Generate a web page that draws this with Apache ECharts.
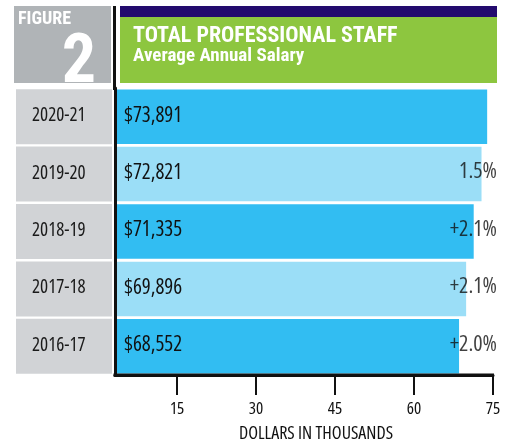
<!DOCTYPE html>
<html>
<head>
<meta charset="utf-8">
<script src="https://cdn.jsdelivr.net/npm/echarts@6/dist/echarts.min.js"></script>
<style>
  html, body { margin: 0; padding: 0; background: #fff; }
  #chart { width: 512px; height: 447px; }
</style>
</head>
<body>
<div id="chart"></div>
<script>
const years = ['2020-21', '2019-20', '2018-19', '2017-18', '2016-17'];
const salaries = [73.891, 72.821, 71.335, 69.896, 68.552];
const salaryLabels = ['$73,891', '$72,821', '$71,335', '$69,896', '$68,552'];
const changeLabels = ['', '1.5%', '+2.1%', '+2.1%', '+2.0%'];
const ticks = [15, 30, 45, 60, 75];
const xMin = 3.2;
const xMax = 75;

// Open Sans condensed is close to the narrow face of the original
const narrow = "'Open Sans'";
const cond = '500 condensed';
const head = "'Roboto Condensed'";
const barColors = ['#32bdf2', '#9bdef7'];

const chart = echarts.init(document.getElementById('chart'));

const headerGraphics = [
  { type: 'rect', shape: { x: 14, y: 6, width: 97, height: 77 }, style: { fill: '#b0b4b7' } },
  { type: 'text', x: 18, y: 19, style: { text: 'FIGURE', fill: '#fff', font: 'bold 18px ' + head, verticalAlign: 'middle' } },
  { type: 'text', x: 96, y: 65, style: { text: '2', fill: '#fff', font: 'bold 68px ' + head, align: 'right', verticalAlign: 'middle' } },
  { type: 'line', shape: { x1: 114.5, y1: 6, x2: 114.5, y2: 90 }, style: { stroke: '#111', lineWidth: 3 } },
  { type: 'rect', shape: { x: 120, y: 6, width: 377, height: 11 }, style: { fill: '#230b6e' } },
  { type: 'rect', shape: { x: 120, y: 17, width: 377, height: 66 }, style: { fill: '#8dc63f' } },
  { type: 'text', x: 133, y: 36, style: { text: 'TOTAL PROFESSIONAL STAFF', fill: '#fff', font: 'bold 22px ' + head, verticalAlign: 'middle' } },
  { type: 'text', x: 133, y: 56, style: { text: 'Average Annual Salary', fill: '#fff', font: 'bold 19px ' + head, verticalAlign: 'middle' } }
];

chart.setOption({
  animation: false,
  grid: { left: 115, right: 19, top: 88, bottom: 72, outerBoundsMode: 'none' },
  xAxis: {
    type: 'value',
    min: xMin,
    max: xMax,
    z: 3,
    name: 'DOLLARS IN THOUSANDS',
    nameLocation: 'middle',
    nameGap: 50,
    nameTextStyle: { fontFamily: narrow, fontWeight: cond, fontSize: 18, color: '#111', padding: [0, 0, 0, 24] },
    axisLine: { show: true, onZero: false, lineStyle: { color: '#111', width: 3, opacity: 1 } },
    axisTick: { show: true, customValues: ticks, length: 20, lineStyle: { color: '#111', width: 2 } },
    axisLabel: { customValues: ticks, margin: 26, fontFamily: narrow, fontWeight: cond, fontSize: 17, color: '#111' },
    splitLine: { show: false }
  },
  yAxis: {
    type: 'category',
    inverse: true,
    data: years,
    z: 3,
    axisLine: { show: true, onZero: false, lineStyle: { color: '#111', width: 3 } },
    axisTick: { show: false },
    axisLabel: {
      interval: 0,
      margin: 3,
      formatter: v => '{b|' + v + '}',
      rich: {
        b: {
          width: 80, height: 53, padding: [0, 0, 2, 16], align: 'left',
          backgroundColor: '#d1d3d6', fontFamily: narrow, fontWeight: cond, fontSize: 19, color: '#1a1a1a'
        }
      }
    }
  },
  series: [
    {
      type: 'bar',
      barCategoryGap: '5%',
      data: salaries.map((v, i) => ({ value: v, itemStyle: { color: barColors[i % 2] } })),
      label: {
        show: true,
        position: 'insideLeft',
        distance: 9,
        offset: [0, -1],
        formatter: p => salaryLabels[p.dataIndex],
        fontFamily: narrow, fontWeight: cond, fontSize: 21, color: '#111'
      }
    },
    {
      type: 'scatter',
      symbolSize: 0,
      data: years.map(y => [xMax, y]),
      label: {
        show: true,
        position: [4, -2],
        align: 'right',
        verticalAlign: 'middle',
        formatter: p => changeLabels[p.dataIndex],
        fontFamily: narrow, fontWeight: cond, fontSize: 22, color: '#111'
      }
    }
  ],
  graphic: headerGraphics
});

// bottom axis rule, placed from the chart's own scales
const xLeft = chart.convertToPixel({ xAxisIndex: 0 }, xMin);
const xRight = chart.convertToPixel({ xAxisIndex: 0 }, xMax);
const yLast = chart.convertToPixel({ yAxisIndex: 0 }, years[years.length - 1]);
const yPrev = chart.convertToPixel({ yAxisIndex: 0 }, years[years.length - 2]);
const yBottom = yLast + (yLast - yPrev) / 2;
chart.setOption({
  graphic: headerGraphics.concat([
    { type: 'line', z: 10, shape: { x1: xLeft - 1.5, y1: yBottom, x2: xRight + 1, y2: yBottom }, style: { stroke: '#111', lineWidth: 3 } }
  ])
});
</script>
</body>
</html>
